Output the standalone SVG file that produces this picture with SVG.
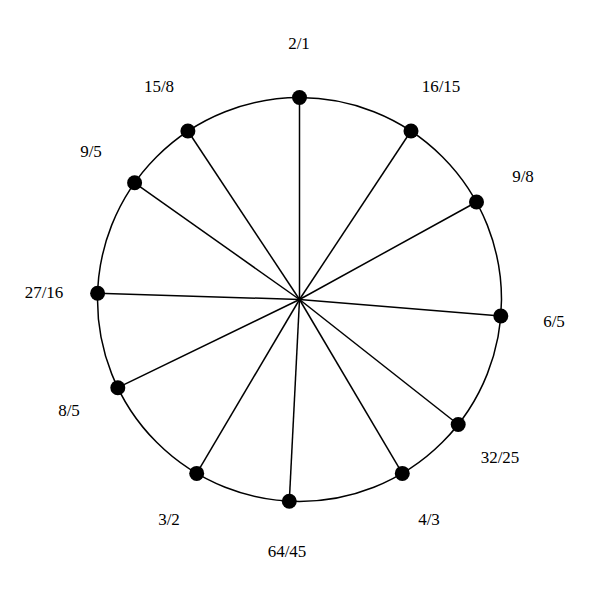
<svg xmlns="http://www.w3.org/2000/svg" width="600" height="600" viewBox="0 0 600 600">
<style>
.spoke{stroke:#000;stroke-width:1.5;fill:none}
.rim{stroke:#000;stroke-width:1.5;fill:none}
.dot{fill:#000}
.lbl{font-family:"Liberation Serif","Times New Roman",serif;font-size:17px;fill:#000;text-anchor:middle}
</style>
<rect width="600" height="600" fill="#fff"/>
<circle class="rim" cx="299.5" cy="299.5" r="202"/>
<g id="connectors">
<line class="spoke" x1="299.5" y1="299.5" x2="299.5" y2="97.5"/>
<line class="spoke" x1="299.5" y1="299.5" x2="411" y2="131"/>
<line class="spoke" x1="299.5" y1="299.5" x2="476.5" y2="202"/>
<line class="spoke" x1="299.5" y1="299.5" x2="500.8" y2="316"/>
<line class="spoke" x1="299.5" y1="299.5" x2="458.2" y2="424.5"/>
<line class="spoke" x1="299.5" y1="299.5" x2="402.3" y2="473.4"/>
<line class="spoke" x1="299.5" y1="299.5" x2="289.3" y2="501.2"/>
<line class="spoke" x1="299.5" y1="299.5" x2="196.7" y2="473.4"/>
<line class="spoke" x1="299.5" y1="299.5" x2="117.8" y2="387.7"/>
<line class="spoke" x1="299.5" y1="299.5" x2="97.6" y2="293.3"/>
<line class="spoke" x1="299.5" y1="299.5" x2="134.6" y2="182.8"/>
<line class="spoke" x1="299.5" y1="299.5" x2="187.9" y2="131"/>
</g>
<g id="n-2-1"><circle class="dot" cx="299.5" cy="97.5" r="7.5"/><text class="lbl" x="299" y="49">2/1</text></g>
<g id="n-16-15"><circle class="dot" cx="411" cy="131" r="7.5"/><text class="lbl" x="441" y="92">16/15</text></g>
<g id="n-9-8"><circle class="dot" cx="476.5" cy="202" r="7.5"/><text class="lbl" x="523" y="182">9/8</text></g>
<g id="n-6-5"><circle class="dot" cx="500.8" cy="316" r="7.5"/><text class="lbl" x="554" y="327">6/5</text></g>
<g id="n-32-25"><circle class="dot" cx="458.2" cy="424.5" r="7.5"/><text class="lbl" x="500" y="463">32/25</text></g>
<g id="n-4-3"><circle class="dot" cx="402.3" cy="473.4" r="7.5"/><text class="lbl" x="429" y="525">4/3</text></g>
<g id="n-64-45"><circle class="dot" cx="289.3" cy="501.2" r="7.5"/><text class="lbl" x="287" y="557">64/45</text></g>
<g id="n-3-2"><circle class="dot" cx="196.7" cy="473.4" r="7.5"/><text class="lbl" x="169" y="525">3/2</text></g>
<g id="n-8-5"><circle class="dot" cx="117.8" cy="387.7" r="7.5"/><text class="lbl" x="69" y="416">8/5</text></g>
<g id="n-27-16"><circle class="dot" cx="97.6" cy="293.3" r="7.5"/><text class="lbl" x="44" y="298">27/16</text></g>
<g id="n-9-5"><circle class="dot" cx="134.6" cy="182.8" r="7.5"/><text class="lbl" x="91" y="157">9/5</text></g>
<g id="n-15-8"><circle class="dot" cx="187.9" cy="131" r="7.5"/><text class="lbl" x="159" y="92">15/8</text></g>
</svg>
